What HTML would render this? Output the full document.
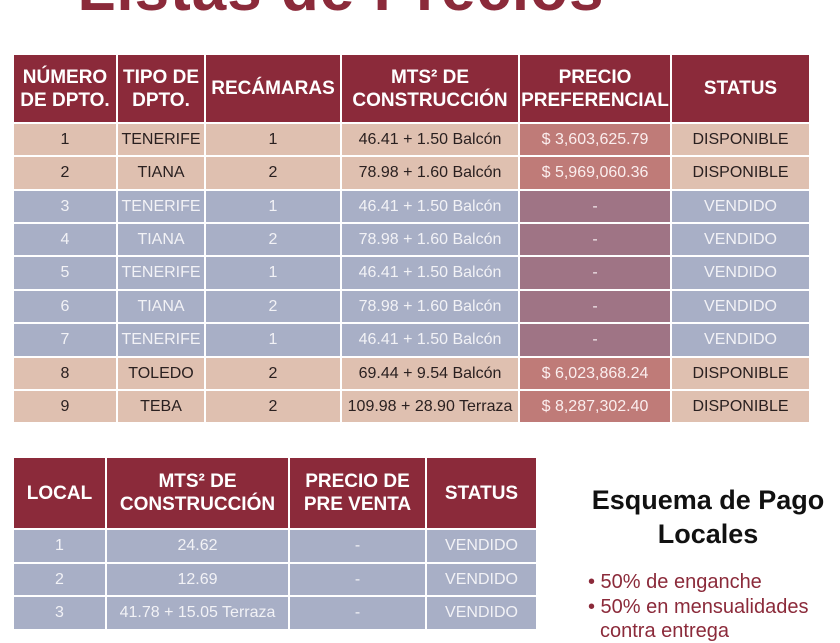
<!DOCTYPE html>
<html><head><meta charset="utf-8"><style>
body{margin:0;width:840px;height:630px;background:#fff;overflow:hidden;position:relative;font-family:"Liberation Sans",sans-serif}
.title{position:absolute;left:0;width:682px;text-align:center;top:-46px;font-size:62px;font-weight:bold;color:#8b2a3a;letter-spacing:1px}
table{position:absolute;border-collapse:collapse;table-layout:fixed}
td,th{border:2px solid #fff;text-align:center;padding:0;font-size:16px}
th{background:#8b2a3a;color:#fff;font-weight:bold;font-size:19px;line-height:23px}
tr.s td{background:#dfc0b0;color:#2a2020}
tr.b td{background:#a8afc6;color:#f2f2f6}
tr.s td.p{background:#bf7b78;color:#fbeeee}
tr.b td.p{background:#9f7485;color:#f2e8ec}
.esq{position:absolute;left:568px;top:483px;width:280px;text-align:center;font-size:27px;font-weight:bold;color:#111;line-height:34px}
.li{position:absolute;left:588px;font-size:20px;color:#8b2a3a}
</style></head><body>
<div class="title">Listas de Precios</div>
<table style="left:12px;top:53px;width:797px">
<colgroup><col style="width:104px"><col style="width:88px"><col style="width:136px"><col style="width:178px"><col style="width:152px"><col style="width:139px"></colgroup>
<tr style="height:69px"><th>NÚMERO<br>DE DPTO.</th><th>TIPO DE<br>DPTO.</th><th>RECÁMARAS</th><th>MTS² DE<br>CONSTRUCCIÓN</th><th>PRECIO<br>PREFERENCIAL</th><th>STATUS</th></tr>
<tr class="s" style="height:33px"><td>1</td><td>TENERIFE</td><td>1</td><td>46.41 + 1.50 Balcón</td><td class="p">$ 3,603,625.79</td><td>DISPONIBLE</td></tr>
<tr class="s" style="height:34px"><td>2</td><td>TIANA</td><td>2</td><td>78.98 + 1.60 Balcón</td><td class="p">$ 5,969,060.36</td><td>DISPONIBLE</td></tr>
<tr class="b" style="height:33px"><td>3</td><td>TENERIFE</td><td>1</td><td>46.41 + 1.50 Balcón</td><td class="p">-</td><td>VENDIDO</td></tr>
<tr class="b" style="height:33px"><td>4</td><td>TIANA</td><td>2</td><td>78.98 + 1.60 Balcón</td><td class="p">-</td><td>VENDIDO</td></tr>
<tr class="b" style="height:34px"><td>5</td><td>TENERIFE</td><td>1</td><td>46.41 + 1.50 Balcón</td><td class="p">-</td><td>VENDIDO</td></tr>
<tr class="b" style="height:33px"><td>6</td><td>TIANA</td><td>2</td><td>78.98 + 1.60 Balcón</td><td class="p">-</td><td>VENDIDO</td></tr>
<tr class="b" style="height:34px"><td>7</td><td>TENERIFE</td><td>1</td><td>46.41 + 1.50 Balcón</td><td class="p">-</td><td>VENDIDO</td></tr>
<tr class="s" style="height:33px"><td>8</td><td>TOLEDO</td><td>2</td><td>69.44 + 9.54 Balcón</td><td class="p">$ 6,023,868.24</td><td>DISPONIBLE</td></tr>
<tr class="s" style="height:33px"><td>9</td><td>TEBA</td><td>2</td><td>109.98 + 28.90 Terraza</td><td class="p">$ 8,287,302.40</td><td>DISPONIBLE</td></tr>
</table>
<table style="left:12px;top:456px;width:524px">
<colgroup><col style="width:93px"><col style="width:183px"><col style="width:137px"><col style="width:111px"></colgroup>
<tr style="height:72px"><th>LOCAL</th><th>MTS² DE<br>CONSTRUCCIÓN</th><th>PRECIO DE<br>PRE VENTA</th><th>STATUS</th></tr>
<tr class="b" style="height:34px"><td>1</td><td>24.62</td><td>-</td><td>VENDIDO</td></tr>
<tr class="b" style="height:33px"><td>2</td><td>12.69</td><td>-</td><td>VENDIDO</td></tr>
<tr class="b" style="height:34px"><td>3</td><td>41.78 + 15.05 Terraza</td><td>-</td><td>VENDIDO</td></tr>
</table>
<div class="esq">Esquema de Pago<br>Locales</div>
<div class="li" style="top:571px">• 50% de enganche</div>
<div class="li" style="top:596px">• 50% en mensualidades</div>
<div class="li" style="top:620px;left:600px">contra entrega</div>
</body></html>
